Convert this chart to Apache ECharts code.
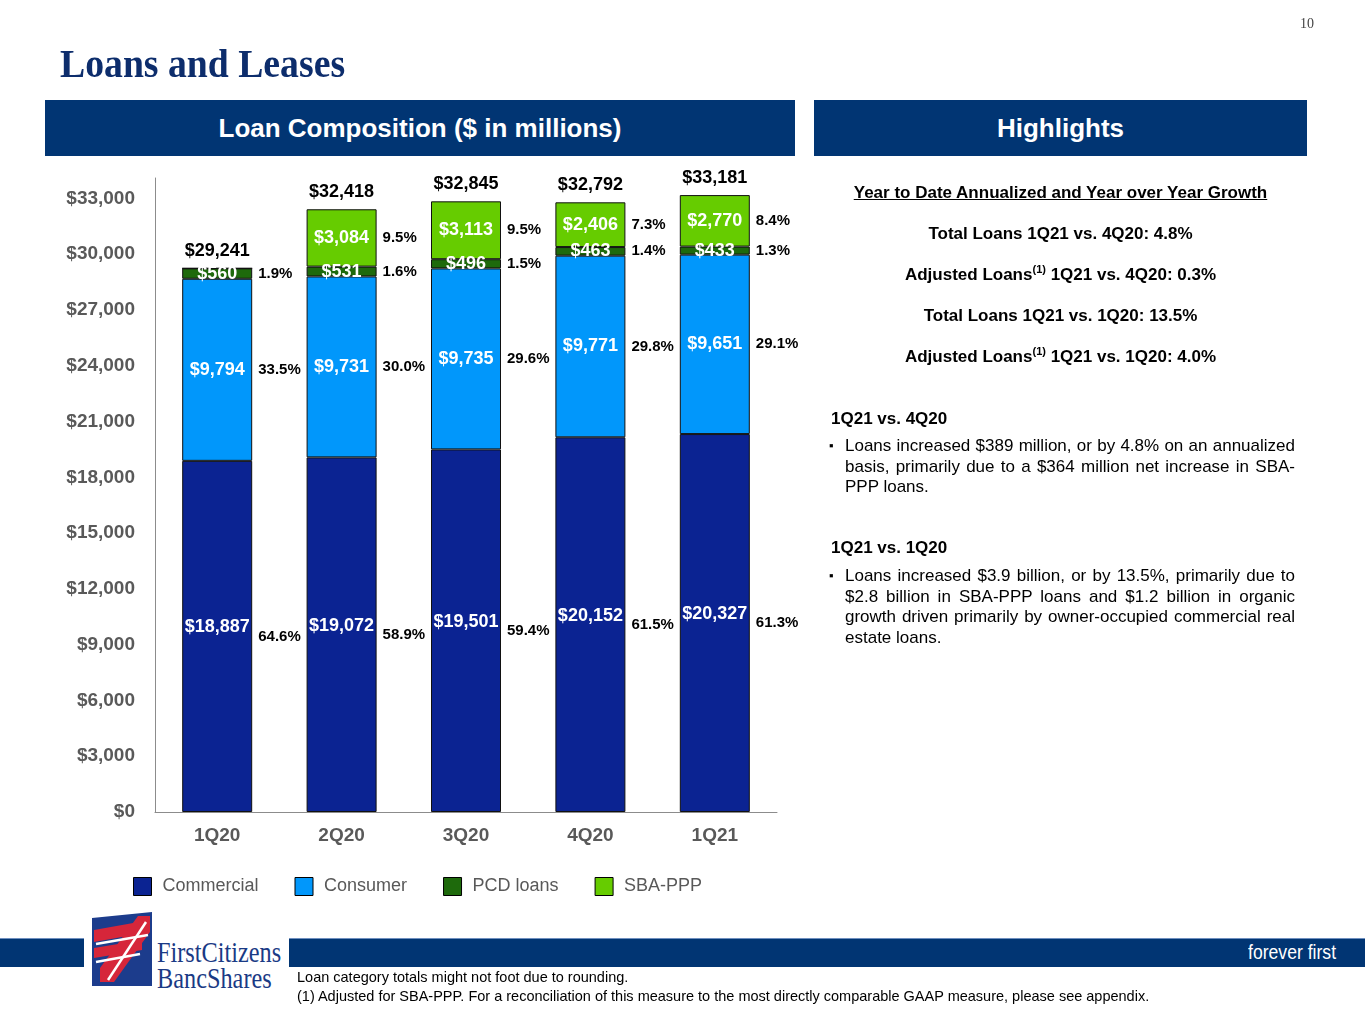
<!DOCTYPE html>
<html>
<head>
<meta charset="utf-8">
<script src="https://cdn.jsdelivr.net/npm/echarts@6/dist/echarts.min.js"></script>
<style>
html,body{margin:0;padding:0;background:#fff;}
#page{position:relative;width:1365px;height:1024px;overflow:hidden;font-family:'Liberation Sans',Arial,sans-serif;color:#000;}
#chart{position:absolute;left:0;top:0;width:1365px;height:1024px;}
.abs{position:absolute;white-space:nowrap;}
.hdr{position:absolute;top:100px;height:56px;line-height:56px;background:#013573;color:#fff;font-weight:bold;font-size:26px;text-align:center;}
.hl{position:absolute;left:814px;width:493px;text-align:center;font-weight:bold;font-size:17px;line-height:20px;}
.hl sup{font-size:11px;line-height:0;vertical-align:7px;}
.sub{position:absolute;left:831px;font-weight:bold;font-size:17px;line-height:20px;}
.para{position:absolute;left:845px;width:450px;text-align:justify;font-size:17px;line-height:20.5px;}
.bul{position:absolute;left:829px;font-size:13px;line-height:20.5px;}
</style>
</head>
<body>
<div id="page">
  <div id="chart"></div>

  <div class="abs" style="left:1300px;top:16px;font-family:'Liberation Serif',serif;font-size:14px;color:#444;">10</div>
  <div class="abs" style="left:60px;top:40px;font-family:'Liberation Serif',serif;font-weight:bold;font-size:41px;line-height:46px;color:#0d2d6c;transform:scaleX(0.92);transform-origin:left;">Loans and Leases</div>

  <div class="hdr" style="left:45px;width:750px;">Loan Composition ($ in millions)</div>
  <div class="hdr" style="left:814px;width:493px;">Highlights</div>

  <div class="hl" style="top:183px;text-decoration:underline;">Year to Date Annualized and Year over Year Growth</div>
  <div class="hl" style="top:224px;">Total Loans 1Q21 vs. 4Q20: 4.8%</div>
  <div class="hl" style="top:265px;">Adjusted Loans<sup>(1)</sup> 1Q21 vs. 4Q20: 0.3%</div>
  <div class="hl" style="top:306px;">Total Loans 1Q21 vs. 1Q20: 13.5%</div>
  <div class="hl" style="top:347px;">Adjusted Loans<sup>(1)</sup> 1Q21 vs. 1Q20: 4.0%</div>

  <div class="sub" style="top:409px;">1Q21 vs. 4Q20</div>
  <div class="bul" style="top:436px;">&#9642;</div>
  <div class="para" style="top:436px;">Loans increased $389 million, or by 4.8% on an annualized basis, primarily due to a $364 million net increase in SBA-PPP loans.</div>

  <div class="sub" style="top:538px;">1Q21 vs. 1Q20</div>
  <div class="bul" style="top:566px;">&#9642;</div>
  <div class="para" style="top:566px;">Loans increased $3.9 billion, or by 13.5%, primarily due to $2.8 billion in SBA-PPP loans and $1.2 billion in organic growth driven primarily by owner-occupied commercial real estate loans.</div>

  <div class="abs" style="left:0;top:938px;width:1365px;height:28px;background:#013573;border-top:1px solid #6f8fbf;"></div>
  <div class="abs" style="left:1248px;top:940px;font-size:20px;line-height:24px;color:#fff;transform:scaleX(0.88);transform-origin:left;">forever first</div>

  <div class="abs" style="left:84px;top:906px;width:205px;height:88px;background:#fff;"></div>
  <svg class="abs" style="left:88px;top:908px;" width="68" height="84" viewBox="0 0 68 84">
    <polygon points="4,10 64,4 64,78 4,78" fill="#1c3c8c"/>
    <polygon points="6,22 62,12 62,24 6,34" fill="#d6263a"/>
    <polygon points="6,40 54,32 54,42 6,50" fill="#d6263a"/>
    <polygon points="12,74 26,74 62,24 62,8 50,8 12,60" fill="#d6263a"/>
    <polyline points="8,36 60,27" stroke="#fff" stroke-width="2.5" fill="none"/>
    <polyline points="8,54 52,46" stroke="#fff" stroke-width="2.5" fill="none"/>
    <polyline points="20,72 58,14" stroke="#fff" stroke-width="2.5" fill="none"/>
  </svg>
  <div class="abs" style="left:157px;top:937px;font-family:'Liberation Serif',serif;font-size:30px;line-height:30px;color:#1a3a85;transform:scaleX(0.81);transform-origin:left;">FirstCitizens</div>
  <div class="abs" style="left:157px;top:963px;font-family:'Liberation Serif',serif;font-size:30px;line-height:30px;color:#1a3a85;transform:scaleX(0.81);transform-origin:left;">BancShares</div>

  <div class="abs" style="left:297px;top:968px;font-size:14.5px;line-height:18px;">Loan category totals might not foot due to rounding.</div>
  <div class="abs" style="left:297px;top:987px;font-size:14.5px;line-height:18px;">(1) Adjusted for SBA-PPP. For a reconciliation of this measure to the most directly comparable GAAP measure, please see appendix.</div>
</div>

<script>
// ---- data ----
const categories = ['1Q20', '2Q20', '3Q20', '4Q20', '1Q21'];
const commercial = [18887, 19072, 19501, 20152, 20327];
const consumer = [9794, 9731, 9735, 9771, 9651];
const pcdLoans = [560, 531, 496, 463, 433];
const sbaPpp = [0, 3084, 3113, 2406, 2770];
const totals = [29241, 32418, 32845, 32792, 33181];
const commercialPct = [64.6, 58.9, 59.4, 61.5, 61.3];
const consumerPct = [33.5, 30.0, 29.6, 29.8, 29.1];
const pcdPct = [1.9, 1.6, 1.5, 1.4, 1.3];
const sbaPct = [null, 9.5, 9.5, 7.3, 8.4];
const yInterval = 3000;
const yMaxTick = 33000;

const money = v => '$' + Number(v).toLocaleString('en-US');
const FONT = "'Liberation Sans', Arial, sans-serif";
const BW = 70;

const colors = {
  'Commercial': '#0b2392',
  'Consumer': '#0197fb',
  'PCD loans': '#1e6a0c',
  'SBA-PPP': '#66cc00'
};

function segSeries(name, data, offsetY) {
  return {
    name: name, type: 'bar', stack: 'seg', data: data, barWidth: BW, barGap: '-100%',
    itemStyle: { color: colors[name], borderColor: '#111', borderWidth: 1 },
    label: {
      show: true, position: 'inside', offset: [0, offsetY || 0],
      color: '#fff', fontFamily: FONT, fontWeight: 'bold', fontSize: 18,
      formatter: p => (p.value ? money(p.value) : '')
    },
    z: 3
  };
}
function pctSeries(name, data, pct) {
  return {
    name: name + ' %', type: 'bar', stack: 'pct', data: data, barWidth: BW, barGap: '-100%',
    itemStyle: { color: 'rgba(0,0,0,0)' }, silent: true,
    label: {
      show: true, position: 'right', distance: 6,
      color: '#000', fontFamily: FONT, fontWeight: 'bold', fontSize: 15,
      formatter: p => (pct[p.dataIndex] == null ? '' : pct[p.dataIndex].toFixed(1) + '%')
    },
    z: 1
  };
}

const chart = echarts.init(document.getElementById('chart'));
chart.setOption({
  animation: false,
  grid: { left: 155, right: 588, top: 178, bottom: 212 },
  legend: {
    data: ['Commercial', 'Consumer', 'PCD loans', 'SBA-PPP'],
    left: 128, top: 872, icon: 'rect', itemWidth: 18, itemHeight: 18, itemGap: 36,
    itemStyle: { borderColor: '#000', borderWidth: 1 },
    textStyle: { color: '#595959', fontSize: 18, fontFamily: FONT, padding: [0, 0, 0, 6] }
  },
  xAxis: {
    type: 'category', data: categories,
    axisLine: { lineStyle: { color: '#8c8c8c', width: 1 } },
    axisTick: { show: false },
    axisLabel: { color: '#595959', fontWeight: 'bold', fontSize: 19, fontFamily: FONT, margin: 14 }
  },
  yAxis: {
    type: 'value', min: 0, max: 34100, interval: yInterval,
    axisLine: { show: true, lineStyle: { color: '#8c8c8c', width: 1 } },
    axisTick: { show: false },
    splitLine: { show: false },
    axisLabel: {
      color: '#595959', fontWeight: 'bold', fontSize: 19, fontFamily: FONT, margin: 20,
      showMaxLabel: false,
      formatter: v => (v <= yMaxTick ? money(v) : '')
    }
  },
  series: [
    segSeries('Commercial', commercial, -9),
    segSeries('Consumer', consumer),
    segSeries('PCD loans', pcdLoans),
    segSeries('SBA-PPP', sbaPpp),
    pctSeries('Commercial', commercial, commercialPct),
    pctSeries('Consumer', consumer, consumerPct),
    pctSeries('PCD loans', pcdLoans, pcdPct),
    pctSeries('SBA-PPP', sbaPpp, sbaPct),
    {
      name: 'Total', type: 'bar', stack: 'tot', data: totals, barWidth: BW, barGap: '-100%',
      itemStyle: { color: 'rgba(0,0,0,0)' }, silent: true, z: 0,
      label: {
        show: true, position: 'top', distance: 8,
        color: '#000', fontFamily: FONT, fontWeight: 'bold', fontSize: 18,
        formatter: p => money(p.value)
      }
    }
  ]
});
</script>
</body>
</html>
